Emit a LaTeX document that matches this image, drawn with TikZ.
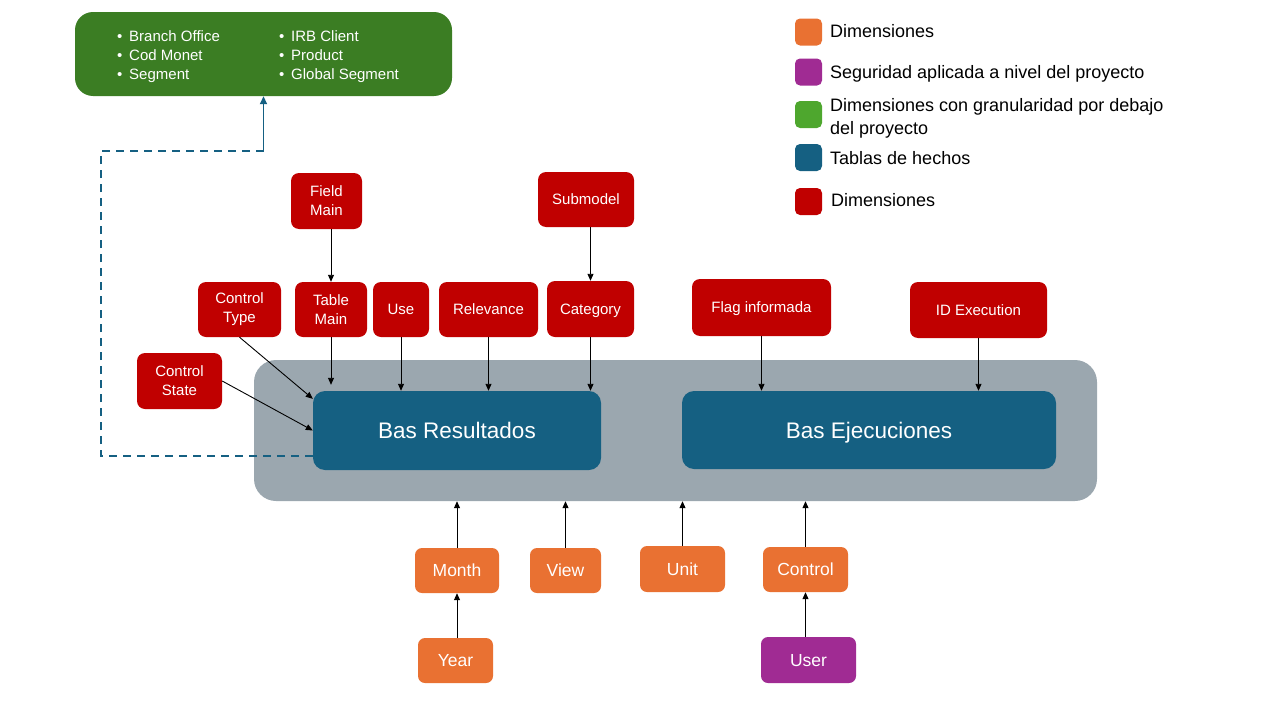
\documentclass[tikz,border=0pt]{standalone}
\usepackage{fontspec}
\setmainfont{Liberation Sans}
\usetikzlibrary{arrows.meta,positioning}

\definecolor{dimred}{HTML}{C00000}
\definecolor{dimorange}{HTML}{E97132}
\definecolor{secpurple}{HTML}{A02B93}
\definecolor{subgreen}{HTML}{4EA72E}
\definecolor{attrgreen}{HTML}{3B7D23}
\definecolor{factblue}{HTML}{156082}
\definecolor{modelgray}{HTML}{9BA7AF}

\tikzset{
  redbox/.style={fill=dimred, text=white, rounded corners=8pt, inner sep=0pt, align=center, font=\fontsize{15}{19}\selectfont},
  redline/.style={redbox, text height=10.7pt, text depth=0pt},
  orangebox/.style={fill=dimorange, text=white, rounded corners=7pt, inner sep=0pt, text height=12.5pt, text depth=0pt, font=\fontsize{17.5}{21}\selectfont},
  factbox/.style={fill=factblue, text=white, rounded corners=12pt, inner sep=0pt, text height=16.1pt, text depth=0pt, font=\fontsize{22.5}{27}\selectfont},
  legendbox/.style={minimum size=27pt, inner sep=0pt, rounded corners=5pt},
  legendtext/.style={anchor=base west, inner sep=0pt, align=left, font=\fontsize{18}{23}\selectfont},
  link/.style={-{Triangle[length=7pt,width=6pt]}, line width=0.9pt},
}

\begin{document}
\begin{tikzpicture}[x=1pt,y=-1pt]
   \useasboundingbox (0,0) rectangle (1280,720);

   \node[fill=modelgray, rounded corners=22pt, minimum width=843pt, minimum height=141pt] (model) at (675.5,430.5) {};

   \node[factbox, minimum width=288pt, minimum height=79pt] (basres)  at (457,430.5) {Bas Resultados};
   \node[factbox, minimum width=374pt, minimum height=78pt] (basejec) at (869,430)   {Bas Ejecuciones};

   \node[fill=attrgreen, text=white, rounded corners=18pt, inner sep=0pt, minimum width=377pt, minimum height=84pt,
         text height=34.3pt, text depth=22.7pt, font=\fontsize{15}{19}\selectfont] (attrs) at (263.5,54)
     {\begin{tabular}{@{}p{162pt}@{}p{131pt}@{}}
        \textbullet\hspace{7pt}Branch Office & \textbullet\hspace{7pt}IRB Client\\
        \textbullet\hspace{7pt}Cod Monet     & \textbullet\hspace{7pt}Product\\
        \textbullet\hspace{7pt}Segment       & \textbullet\hspace{7pt}Global Segment
      \end{tabular}};

   \node[redbox,  minimum width=71pt,  minimum height=56pt] (fieldmain) at (326.5,201)   {Field\\Main};
   \node[redline, minimum width=96pt,  minimum height=55pt] (submodel)  at (586,199.5)   {Submodel};
   \node[redbox,  minimum width=83pt,  minimum height=55pt] (ctrltype)  at (239.5,309.5) {Control\\Type};
   \node[redbox,  minimum width=72pt,  minimum height=55pt] (tablemain) at (331,309.5)   {Table\\Main};
   \node[redline, minimum width=56pt,  minimum height=55pt] (use)       at (401,309.5)   {Use};
   \node[redline, minimum width=99pt,  minimum height=55pt] (relevance) at (488.5,309.5) {Relevance};
   \node[redline, minimum width=87pt,  minimum height=56pt] (category)  at (590.5,309)   {Category};
   \node[redbox,  minimum width=85pt,  minimum height=56pt] (ctrlstate) at (179.5,381)   {Control\\State};
   \node[redline, minimum width=139pt, minimum height=57pt] (flag)      at (761.5,307.5) {Flag informada};
   \node[redline, minimum width=137pt, minimum height=56pt] (idexec)    at (978.5,310)   {ID Execution};

   \node[orangebox, minimum width=84pt, minimum height=45pt] (month)   at (457,570.5)   {Month};
   \node[orangebox, minimum width=71pt, minimum height=45pt] (view)    at (565.5,570.5) {View};
   \node[orangebox, minimum width=85pt, minimum height=46pt] (unit)    at (682.5,569)   {Unit};
   \node[orangebox, minimum width=85pt, minimum height=45pt] (control) at (805.5,569.5) {Control};
   \node[orangebox, minimum width=75pt, minimum height=45pt] (year)    at (455.5,660.5) {Year};
   \node[orangebox, fill=secpurple, minimum width=95pt, minimum height=46pt] (user) at (808.5,660) {User};

   \node[legendbox, fill=dimorange]  (leg_orange) at (808.5,32)    {};
   \node[legendbox, fill=secpurple]  (leg_purple) at (808.5,72)    {};
   \node[legendbox, fill=subgreen]   (leg_green)  at (808.5,114.5) {};
   \node[legendbox, fill=factblue]   (leg_blue)   at (808.5,157.5) {};
   \node[legendbox, fill=dimred]     (leg_red)    at (808.5,201.5) {};

   \node[legendtext] (txt_orange) at (830,37)  {Dimensiones};
   \node[legendtext] (txt_purple) at (830,78)  {Seguridad aplicada a nivel del proyecto};
   \node[legendtext] (txt_green)  at (830,134) {Dimensiones con granularidad por debajo\\del proyecto};
   \node[legendtext] (txt_blue)   at (830,164) {Tablas de hechos};
   \node[legendtext] (txt_red)    at (831,206) {Dimensiones};

   \coordinate (bend) at (101,151);
   \draw[factblue, line width=1.8pt, dash pattern=on 8pt off 6pt]
     ([yshift=14pt]basres.south west) -| (bend) -- (bend -| attrs.south);
   \draw[factblue, line width=1.8pt, -{Triangle[length=8pt,width=7pt]}] (bend -| attrs.south) -- (attrs.south);

    \path[link]
    (fieldmain.south -| tablemain.north) edge (tablemain.north)
    (submodel.south -| category.north)   edge (category.north)

    (ctrltype.south) edge ([yshift=-8pt]basres.north west)
    (ctrlstate.east) edge (basres.west)
    (tablemain)      edge ([yshift=6pt]tablemain |- basres.north)
    (use)            edge (use |- basres.north)
    (relevance)      edge (relevance |- basres.north)
    (category)       edge (category |- basres.north)

    (flag)           edge (flag |- basejec.north)
    (idexec)         edge (idexec |- basejec.north)

    (month)   edge (month |- model.south)
    (view)    edge (view |- model.south)
    (unit)    edge (unit |- model.south)
    (control) edge (control |- model.south)

    (month |- year.north)   edge (month)
    (control |- user.north) edge (control);
\end{tikzpicture}
\end{document}
